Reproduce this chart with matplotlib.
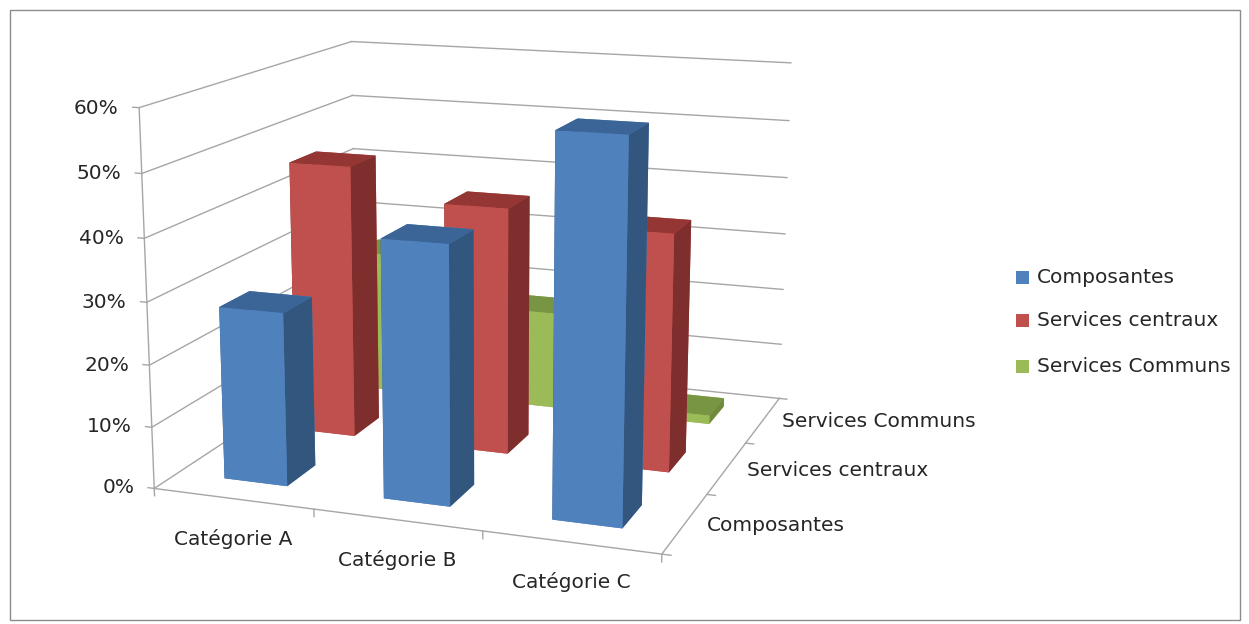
import matplotlib.pyplot as plt
import numpy as np
from matplotlib.patches import Rectangle
from mpl_toolkits.mplot3d import proj3d

categories = ['Catégorie A', 'Catégorie B', 'Catégorie C']
series = ['Composantes', 'Services centraux', 'Services Communs']
composantes = [0.28, 0.41, 0.59]
services_centraux = [0.46, 0.41, 0.39]
services_communs = [0.25, 0.17, 0.015]
z_ticks = [0.0, 0.1, 0.2, 0.3, 0.4, 0.5, 0.6]
z_labels = ['0%', '10%', '20%', '30%', '40%', '50%', '60%']

# front, side, top shades per series
faces = {
    'Composantes': ('#4F81BD', '#33567F', '#3B6597'),
    'Services centraux': ('#C0504D', '#7E2F2D', '#943634'),
    'Services Communs': ('#9BBB59', '#6F8A3A', '#789544'),
}

W, H = 1249, 624
fig = plt.figure(figsize=(W / 100, H / 100), dpi=100)
fig.patches.append(Rectangle((0.008, 0.006), 0.985, 0.978, transform=fig.transFigure,
                             fill=False, edgecolor='#8c8c8c', linewidth=1.0))

ax = fig.add_axes([0.07549, -0.05578, 0.61277, 1.22653], projection='3d',
                  proj_type='persp', focal_length=0.5059, computed_zorder=False)
ax.set_box_aspect((3.0, 2.9217, 2.2023))
ax.view_init(elev=13.637, azim=-70.198)
ax.set_axis_off()
ax.set_xlim(0, 3)
ax.set_ylim(0, 3)
ax.set_zlim(0, 0.6)

grid_c = '#a6a6a6'
# back and side wall gridlines
for z in z_ticks:
    ax.plot([0, 0], [0, 3], [z, z], color=grid_c, lw=1.0, zorder=1)
    ax.plot([0, 3], [3, 3], [z, z], color=grid_c, lw=1.0, zorder=1)
# axis lines and ticks
ax.plot([0, 0], [0, 0], [0, 0.6], color=grid_c, lw=1.0, zorder=1)
ax.plot([0, 3], [0, 0], [0, 0], color=grid_c, lw=1.0, zorder=1)
ax.plot([3, 3], [0, 3], [0, 0], color=grid_c, lw=1.0, zorder=1)
for z in z_ticks:
    ax.plot([-0.04, 0], [0, 0], [z, z], color=grid_c, lw=1.0, zorder=1)
for i in range(4):
    ax.plot([i, i], [0, 0], [0, -0.012], color=grid_c, lw=1.0, zorder=1)
    ax.plot([3, 3.05], [i, i], [0, 0], color=grid_c, lw=1.0, zorder=1)

# bars, back row first so nearer boxes paint over farther ones
w = 0.4
all_vals = [composantes, services_centraux, services_communs]
order = 2
for j in reversed(range(len(series))):
    front, side, top = faces[series[j]]
    for i, v in enumerate(all_vals[j]):
        # faces: -z, +z, -y, +y, -x, +x
        ax.bar3d(i + 0.5 - w / 2, j + 0.5 - w / 2, 0, w, w, v,
                 color=[front, top, front, front, side, side],
                 shade=False, linewidth=0, zorder=order)
        order += 1

# labels are placed in figure space at the projected 3D anchor points
fig.canvas.draw()
M = ax.get_proj()


def fig_xy(x, y, z, off_x=0, off_y=0):
    px, py, _ = proj3d.proj_transform(x, y, z, M)
    dx, dy = ax.transData.transform((px, py))
    return (dx + off_x) / W, (dy + off_y) / H


txt_c = '#262626'
fs = 14.5
for z, lab in zip(z_ticks, z_labels):
    fx, fy = fig_xy(-0.13, 0, z, off_y=-2)
    fig.text(fx, fy, lab, ha='right', va='center', fontsize=fs, color=txt_c)
for i, lab in enumerate(categories):
    fx, fy = fig_xy(i + 0.5, 0, 0, off_y=-40)
    fig.text(fx, fy, lab, ha='center', va='center', fontsize=fs, color=txt_c)
for j, lab in enumerate(series):
    fx, fy = fig_xy(3.12, j + 0.5, 0)
    fig.text(fx, fy, lab, ha='left', va='center', fontsize=fs, color=txt_c)

# legend
ly = [0.556, 0.486, 0.413]
for name, y in zip(series, ly):
    fig.patches.append(Rectangle((0.8135, y - 0.0105), 0.0104, 0.021, transform=fig.transFigure,
                                 facecolor=faces[name][0], edgecolor='none'))
    fig.text(0.8305, y, name, ha='left', va='center', fontsize=fs, color=txt_c)

fig.savefig('out.png', dpi=100)
